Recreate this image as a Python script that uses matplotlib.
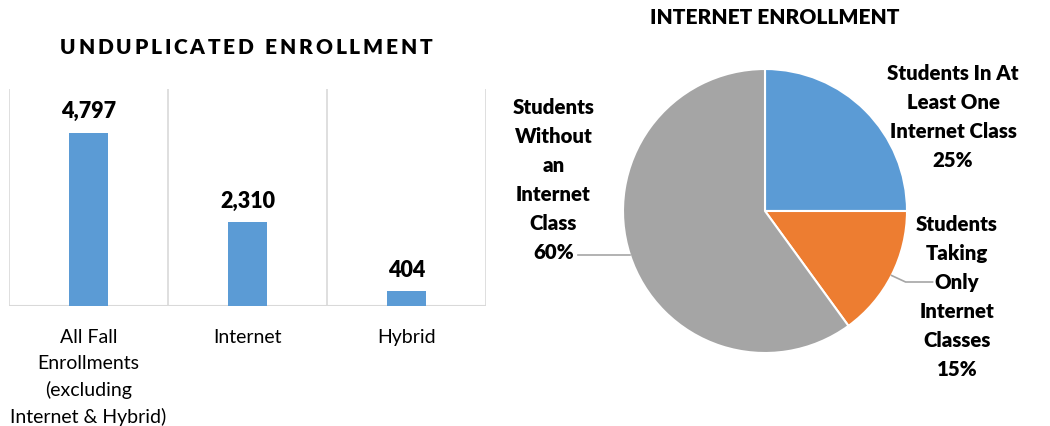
import numpy as np
import matplotlib
matplotlib.use("Agg")
import matplotlib.pyplot as plt

plt.rcParams["font.family"] = ["Lato", "DejaVu Sans"]

# enrollment counts
bar_categories = ["All Fall\nEnrollments\n(excluding\nInternet & Hybrid)", "Internet", "Hybrid"]
bar_values = [4797, 2310, 404]

# internet enrollment shares (%)
pie_labels = ["Students In At\nLeast One\nInternet Class",
              "Students\nTaking\nOnly\nInternet\nClasses",
              "Students\nWithout\nan\nInternet\nClass"]
pie_values = [25, 15, 60]

BLUE = "#5B9BD5"
ORANGE = "#ED7D31"
GREY = "#A5A5A5"
GRID = "#D9D9D9"

W, H = 1050, 427
fig = plt.figure(figsize=(W / 100, H / 100), dpi=100)


def px_axes(x0, y0, x1, y1):
    # axes from pixel box (top-left origin)
    return fig.add_axes([x0 / W, 1 - y1 / H, (x1 - x0) / W, (y1 - y0) / H])


def tracked_text(s, cx, cy, total, **kw):
    # draw a string letter by letter, spread to a given width (pixels), centred on cx
    r = fig.canvas.get_renderer()
    widths = []
    for ch in s:
        t = fig.text(0, 0, ch if ch != " " else "n", **kw)
        widths.append(t.get_window_extent(r).width * (0.5 if ch == " " else 1))
        t.remove()
    tracking = (total - sum(widths)) / (len(s) - 1)
    x = cx - total / 2
    for ch, w in zip(s, widths):
        if ch != " ":
            fig.text(x / W, 1 - cy / H, ch, ha="left", va="center", **kw)
        x += w + tracking


# ---- bar chart ----
ax = px_axes(9, 90, 486, 307)
x = np.arange(len(bar_values))
bars = ax.bar(x, bar_values, width=0.245, color=BLUE, zorder=2)
ax.set_xlim(-0.5, len(bar_values) - 0.5)
ax.set_ylim(0, 6000)
for sep in np.arange(-0.5, len(bar_values), 1.0):
    ax.axvline(sep, color=GRID, lw=1.2, zorder=1)
for s in ax.spines.values():
    s.set_visible(False)
ax.axhline(0, color=GRID, lw=1.5, zorder=1)
ax.set_yticks([])
ax.set_xticks(x)
ax.set_xticklabels(bar_categories, fontsize=14, linespacing=1.6, va="top")
ax.tick_params(axis="x", length=0, pad=16)
for b, v in zip(bars, bar_values):
    ax.annotate(f"{v:,}", (b.get_x() + b.get_width() / 2, v), xytext=(0, 11),
                textcoords="offset points", ha="center", va="baseline",
                fontsize=15.5, fontweight="heavy")

tracked_text("UNDUPLICATED ENROLLMENT", 246, 48, 372, fontsize=15, fontweight="heavy")

# ---- pie chart ----
cx, cy, R = 765, 212, 142
pax = px_axes(cx - 160, cy - 160, cx + 160, cy + 160)
wedges, _ = pax.pie(pie_values, colors=[BLUE, ORANGE, GREY], startangle=90,
                    counterclock=False, radius=1,
                    wedgeprops=dict(edgecolor="white", linewidth=1.5))
lim = 160 / R
pax.set_xlim(-lim, lim)
pax.set_ylim(-lim, lim)
pax.set_aspect("equal")

label_pos = [(1.324, 0.67), (1.352, -0.60), (-1.49, 0.225)]
for w, lab, val, (lx, ly) in zip(wedges, pie_labels, pie_values, label_pos):
    pax.text(lx, ly, f"{lab}\n{val}%", ha="center", va="center",
             fontsize=14.7, fontweight="heavy", linespacing=1.62)

# leader lines from wedge mid-angles
for i in (1, 2):
    w = wedges[i]
    ang = np.deg2rad((w.theta1 + w.theta2) / 2)
    sx, sy = np.cos(ang), np.sin(ang)
    if i == 1:
        xs, ys = [sx, 0.99, 1.18], [sy, -0.50, -0.50]
    else:
        xs, ys = [sx, -1.32], [sy, sy]
    pax.plot(xs, ys, color=GREY, lw=1.2, clip_on=False)

fig.text(775 / W, 1 - 18 / H, "INTERNET ENROLLMENT", ha="center", va="center",
         fontsize=15, fontweight="heavy")

fig.savefig("out.png", dpi=100, facecolor="white")
